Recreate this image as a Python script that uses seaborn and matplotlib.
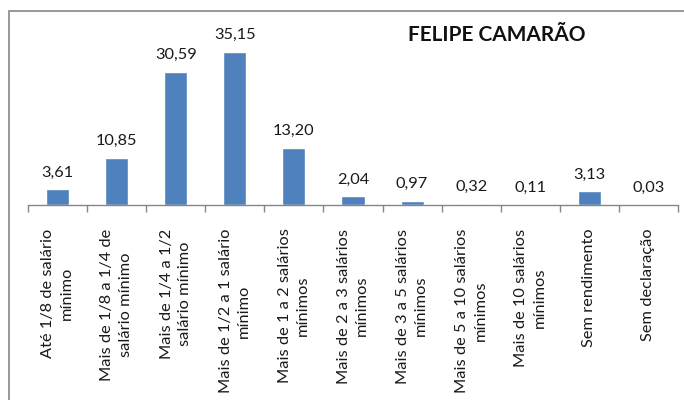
import matplotlib
matplotlib.use("Agg")
import matplotlib.pyplot as plt
import seaborn as sns
import pandas as pd
from matplotlib.patches import Rectangle

categories = [
    "Até 1/8 de salário\nmínimo",
    "Mais de 1/8 a 1/4 de\nsalário mínimo",
    "Mais de 1/4 a 1/2\nsalário mínimo",
    "Mais de 1/2 a 1 salário\nmínimo",
    "Mais de 1 a 2 salários\nmínimos",
    "Mais de 2 a 3 salários\nmínimos",
    "Mais de 3 a 5 salários\nmínimos",
    "Mais de 5 a 10 salários\nmínimos",
    "Mais de 10 salários\nmínimos",
    "Sem rendimento",
    "Sem declaração",
]
values = [3.61, 10.85, 30.59, 35.15, 13.20, 2.04, 0.97, 0.32, 0.11, 3.13, 0.03]
title = "FELIPE CAMARÃO"

df = pd.DataFrame({"cat": categories, "val": values})

sns.set_style("white")
plt.rcParams["font.family"] = ["Lato", "DejaVu Sans"]

fig = plt.figure(figsize=(6.84, 4.0), dpi=100)
ax = fig.add_axes([28 / 684, 1 - 205 / 400, 650 / 684, 174 / 400])

sns.barplot(data=df, x="cat", y="val", color="#4F81BD", width=0.39,
            saturation=1, ax=ax)

ax.set_ylim(0, 40)
ax.set_xlim(-0.5, len(categories) - 0.5)
ax.set_xlabel("")
ax.set_ylabel("")
ax.set_yticks([])

for s in ["top", "right", "left"]:
    ax.spines[s].set_visible(False)
ax.spines["bottom"].set_color("#868686")
ax.spines["bottom"].set_linewidth(1)

ax.set_xticks(range(len(categories)))
ax.set_xticklabels(categories, rotation=90, ha="center", va="top",
                   multialignment="center", fontsize=11.8, color="#1a1a1a",
                   linespacing=1.4)
ax.tick_params(axis="x", which="major", length=0, pad=17)
ax.set_xticks([i - 0.5 for i in range(len(categories) + 1)], minor=True)
ax.tick_params(axis="x", which="minor", length=5, color="#868686", width=1,
               bottom=True)

labels = [f"{v:.2f}".replace(".", ",") for v in values]
ax.bar_label(ax.containers[0], labels=labels, padding=7, fontsize=11.8,
             color="#1a1a1a")

fig.text(497 / 684, 1 - 35 / 400, title, ha="center", va="center",
         fontsize=15, fontweight="bold", color="#111111")

fig.patches.append(Rectangle((9 / 684, -0.1), 2, 1.1 - 11 / 400,
                             transform=fig.transFigure, fill=False,
                             edgecolor="#868686", linewidth=1.2))

fig.savefig("out.png", dpi=100)
